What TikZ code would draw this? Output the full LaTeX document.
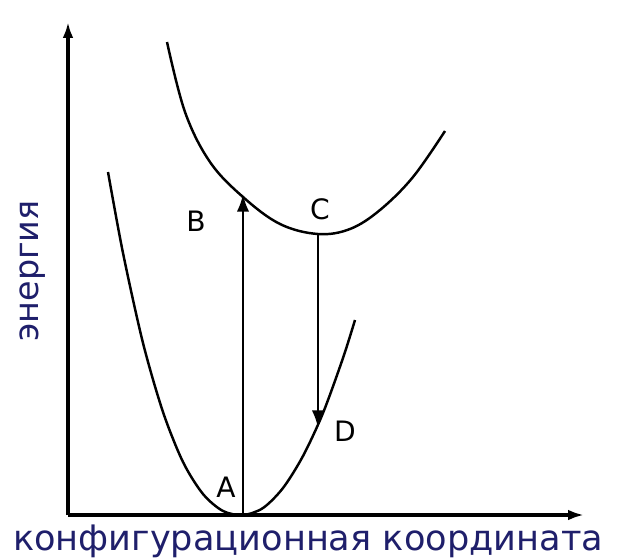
\documentclass[tikz,border=0pt]{standalone}
\usepackage{fontspec}
\setmainfont{DejaVu Sans}
\usetikzlibrary{arrows.meta}
\definecolor{labelblue}{rgb}{0.12,0.12,0.42}

\begin{document}
\begin{tikzpicture}[
    x=0.02cm, y=-0.02cm,
    axis/.style={line width=2pt, -{Latex[length=9pt,width=6pt]}},
    curve/.style={line width=1.4pt},
    trans/.style={line width=1.4pt, -{Latex[length=10pt,width=7pt]}},
    letter/.style={font=\fontsize{16}{18}\selectfont, inner sep=0pt},
    axlabel/.style={font=\fontsize{20}{22}\selectfont, text=labelblue, inner sep=0pt}
  ]
  \useasboundingbox (0,0) rectangle (619,559);

  % оси
  \coordinate (O) at (68,515);
  \coordinate (ytop) at (68,22);
  \coordinate (xend) at (584,515);
  \draw[axis] (O) -- (ytop);
  \draw[axis] (O) -- (xend);

  % основное состояние
  \draw[curve] plot[smooth, tension=0.5] coordinates {
    (108,172) (123,253) (143,343) (163,412) (183,462) (203,494) (223,511) (243,515)
    (263,508) (283,488) (303,456) (323,413) (343,358) (355,320)};

  % возбуждённое состояние
  \draw[curve] plot[smooth, tension=0.6] coordinates {
    (167,42) (185,112) (210,162) (243,197) (280,224) (318,234)
    (350,229) (380,210) (413,177) (445,131)};

  % точки переходов
  \coordinate (A) at (243,515);
  \coordinate (B) at (243,194);
  \coordinate (C) at (318,234);
  \coordinate (D) at (318,428);

  \draw[trans] (A) -- (B);
  \draw[trans] (C) -- (D);

  % подписи
  \node[letter] (la) at (226,487) {A};
  \node[letter] (lb) at (196,221) {B};
  \node[letter] (lc) at (320,209) {C};
  \node[letter] (ld) at (345,431) {D};

  \node[axlabel, rotate=90, font=\fontsize{19}{21}\selectfont] (ylab) at (33,271) {энергия};
  \node[axlabel] (xlab) at (308,541) {конфигурационная координата};

\end{tikzpicture}
\end{document}
